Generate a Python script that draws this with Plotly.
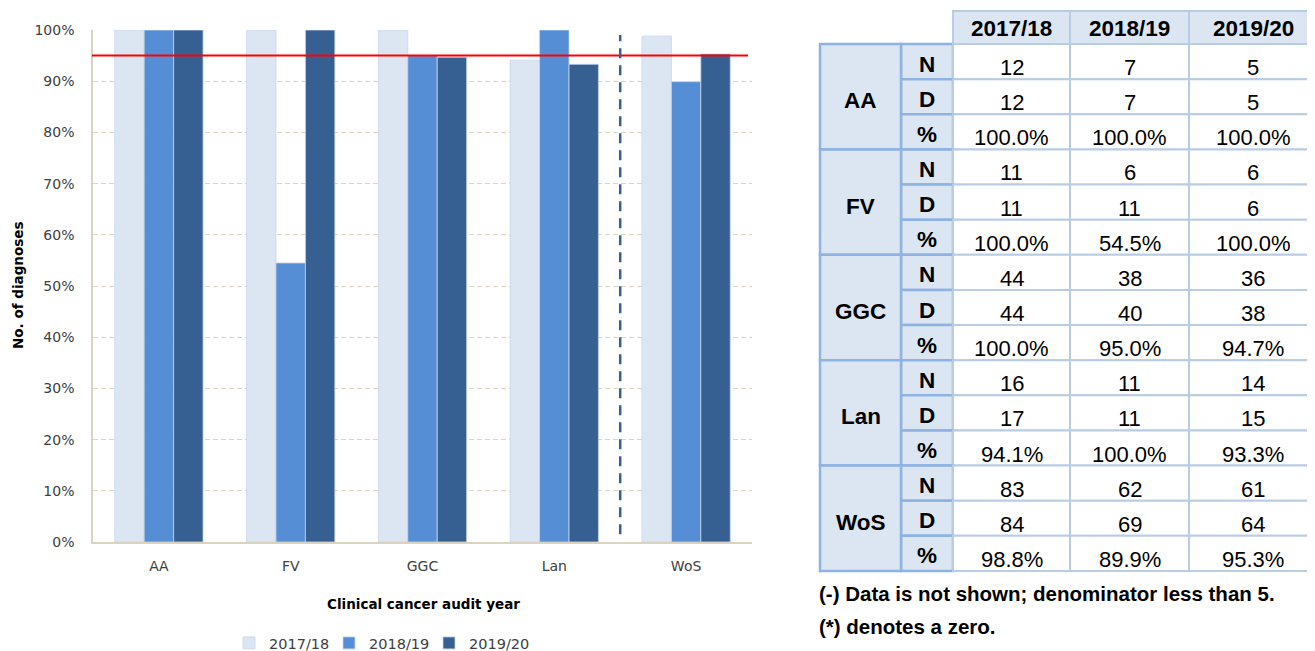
import plotly.graph_objects as go

W, H = 1315, 651
OFFX, OFFY = 8, 8   # where the figure's top-left corner lands on the page

# ---------------- data ----------------
regions = ["AA", "FV", "GGC", "Lan", "WoS"]
years = ["2017/18", "2018/19", "2019/20"]
numer = {
    "AA": [12, 7, 5],
    "FV": [11, 6, 6],
    "GGC": [44, 38, 36],
    "Lan": [16, 11, 14],
    "WoS": [83, 62, 61],
}
denom = {
    "AA": [12, 7, 5],
    "FV": [11, 11, 6],
    "GGC": [44, 40, 38],
    "Lan": [17, 11, 15],
    "WoS": [84, 69, 64],
}
pct = {r: [round(n / d * 100, 1) for n, d in zip(numer[r], denom[r])] for r in regions}
target = 95
yticks = [0, 10, 20, 30, 40, 50, 60, 70, 80, 90, 100]
footnotes = ["(-) Data is not shown; denominator less than 5.", "(*) denotes a zero."]

# ---------------- styles ----------------
colors = ["#DCE6F2", "#558ED5", "#376092"]
chart_font = "DejaVu Sans"
table_font = "Liberation Sans"
FW, FH = W - OFFX, H - OFFY + 8

def px(x):
    return (x - OFFX) / FW

def py(y):
    return 1 - (y - OFFY) / FH

fig = go.Figure()
for i, yr in enumerate(years):
    fig.add_trace(go.Bar(
        x=regions,
        y=[pct[r][i] for r in regions],
        name=yr,
        marker=dict(color=colors[i], line=dict(color="#C6D6EA", width=0.8)),
    ))

shapes = []
annotations = []

# target line
shapes.append(dict(type="line", xref="paper", yref="y", x0=px(92), x1=px(748),
                   y0=target, y1=target, line=dict(color="#FF0000", width=2)))
# dashed separator between Lan and WoS
shapes.append(dict(type="line", xref="x", yref="y", x0=3.5, x1=3.5, y0=1.5, y1=99,
                   line=dict(color="#376092", width=2.5, dash="10px,7px")))

# ---------------- table ----------------
col_edges = [820, 901, 953, 1070, 1189, 1317]
header_top, header_bot = 11, 44
row_h = (571 - header_bot) / 15
light = "#DCE6F2"
inner = "#B8CCE4"
outer = "#8DB3E2"
TS = 22
TB = 22.5

# header cells
for j, yr in enumerate(years):
    x0, x1 = col_edges[j + 2], col_edges[j + 3]
    shapes.append(dict(type="rect", xref="paper", yref="paper",
                       x0=px(x0), x1=px(x1), y0=py(header_bot), y1=py(header_top),
                       fillcolor=light, line=dict(color=inner, width=2), layer="above"))
    annotations.append(dict(xref="paper", yref="paper", x=px((x0 + x1) / 2),
                            y=py((header_top + header_bot) / 2 + 1.5), text="<b>%s</b>" % yr,
                            showarrow=False, font=dict(family=table_font, size=TB, color="#000000"),
                            xanchor="center", yanchor="middle"))

labels = ["N", "D", "%"]
for g, r in enumerate(regions):
    gtop = header_bot + g * 3 * row_h
    gbot = gtop + 3 * row_h
    rows = [numer[r], denom[r], ["%.1f%%" % v for v in pct[r]]]
    for k in range(3):
        rt = gtop + k * row_h
        rb = rt + row_h
        # label cell
        shapes.append(dict(type="rect", xref="paper", yref="paper",
                           x0=px(col_edges[1]), x1=px(col_edges[2]), y0=py(rb), y1=py(rt),
                           fillcolor=light, line=dict(color=outer, width=2.5), layer="above"))
        annotations.append(dict(xref="paper", yref="paper", x=px((col_edges[1] + col_edges[2]) / 2),
                                y=py(rt + row_h / 2 + 2.5), text="<b>%s</b>" % labels[k],
                                showarrow=False, font=dict(family=table_font, size=TB, color="#000000"),
                                xanchor="center", yanchor="middle"))
        for j in range(3):
            x0, x1 = col_edges[j + 2], col_edges[j + 3]
            shapes.append(dict(type="rect", xref="paper", yref="paper",
                               x0=px(x0), x1=px(x1), y0=py(rb), y1=py(rt),
                               fillcolor="#FFFFFF", line=dict(color=inner, width=2), layer="above"))
            annotations.append(dict(xref="paper", yref="paper", x=px((x0 + x1) / 2),
                                    y=py(rt + row_h / 2 + 6), text=str(rows[k][j]),
                                    showarrow=False, font=dict(family=table_font, size=TS, color="#000000"),
                                    xanchor="center", yanchor="middle"))
    # region cell
    shapes.append(dict(type="rect", xref="paper", yref="paper",
                       x0=px(col_edges[0]), x1=px(col_edges[1]), y0=py(gbot), y1=py(gtop),
                       fillcolor=light, line=dict(color=outer, width=2.5), layer="above"))
    annotations.append(dict(xref="paper", yref="paper", x=px((col_edges[0] + col_edges[1]) / 2),
                            y=py((gtop + gbot) / 2 + 4), text="<b>%s</b>" % r,
                            showarrow=False, font=dict(family=table_font, size=TB, color="#000000"),
                            xanchor="center", yanchor="middle"))

for i, t in enumerate(footnotes):
    annotations.append(dict(xref="paper", yref="paper", x=px(817), y=py(593 + i * 33),
                            text="<b>%s</b>" % t, showarrow=False,
                            font=dict(family=table_font, size=20.5, color="#000000"),
                            xanchor="left", yanchor="middle"))

# axis titles
annotations.append(dict(xref="paper", yref="paper", x=px(423), y=py(604),
                        text="<b>Clinical cancer audit year</b>", showarrow=False,
                        font=dict(family=chart_font, size=13.5, color="#000000"),
                        xanchor="center", yanchor="middle"))
annotations.append(dict(xref="paper", yref="paper", x=px(18), y=py(286),
                        text="<b>No. of diagnoses</b>", showarrow=False, textangle=-90,
                        font=dict(family=chart_font, size=13.5, color="#000000"),
                        xanchor="center", yanchor="middle"))

fig.update_layout(
    width=FW, height=FH,
    margin=dict(l=0, r=0, t=0, b=0, autoexpand=False),
    paper_bgcolor="white", plot_bgcolor="white",
    barmode="group", bargap=0.33, bargroupgap=0,
    font=dict(family=chart_font, size=14, color="#404040"),
    xaxis=dict(domain=[px(93), px(752)], showgrid=False, showline=True, automargin=False,
               linecolor="#D9D3BF", linewidth=1.5, ticks="", tickfont=dict(size=14, color="#404040"),
               ticklabelstandoff=10),
    yaxis=dict(domain=[py(542), py(30)], range=[0, 100], tickvals=yticks, automargin=False,
               ticktext=["%d%%" % v for v in yticks], showgrid=True, gridcolor="#DCD6C2",
               griddash="5px,3px", gridwidth=1.2, showline=True, linecolor="#D9D3BF", linewidth=1.5,
               zeroline=False, ticks="", tickfont=dict(size=14, color="#404040"), ticklabelstandoff=14),
    legend=dict(orientation="h", xref="paper", yref="paper",
                x=px(379), xanchor="center", y=py(643), yanchor="middle",
                font=dict(size=14.5, color="#404040"), itemwidth=30, traceorder="normal",
                entrywidth=55, entrywidthmode="pixels"),
    shapes=shapes,
    annotations=annotations,
    showlegend=True,
)

fig.write_html("out.html")
